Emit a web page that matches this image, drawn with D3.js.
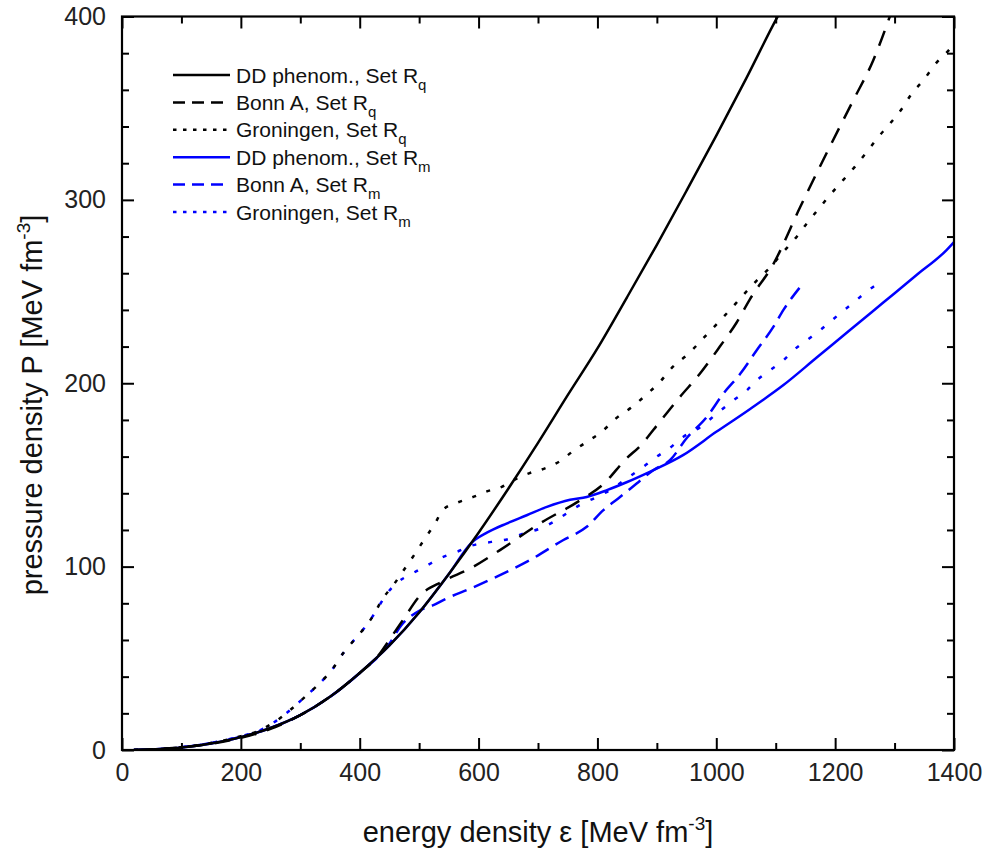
<!DOCTYPE html>
<html>
<head>
<meta charset="utf-8">
<script src="https://cdn.jsdelivr.net/npm/d3@7"></script>
<style>
  html, body { margin: 0; padding: 0; background: #fff; }
  svg { display: block; font-family: "Liberation Sans", Arial, sans-serif; }
</style>
</head>
<body>
<svg id="chart" width="988" height="853"></svg>
<script>
// ---------- data (energy density e [MeV fm^-3], pressure P [MeV fm^-3]) ----------
const xMajorTicks = [0, 200, 400, 600, 800, 1000, 1200, 1400];
const xMinorTicks = [100, 300, 500, 700, 900, 1100, 1300];
const yMajorTicks = [0, 100, 200, 300, 400];
const yMinorTicks = [20, 40, 60, 80, 120, 140, 160, 180, 220, 240, 260, 280, 320, 340, 360, 380];

const ddRq = [[20,0],[100,1.4],[150,3.6],[200,7],[250,12],[300,19],[350,29],[400,42],[450,57],[500,75],[550,96],[600,118.5],[650,142.5],[700,167.5],[750,193.5],[800,219],[850,247],[900,275.5],[950,305],[1000,335],[1050,366],[1100,398],[1110,404]];
const bonnRq = [[20,0],[100,1.4],[150,3.4],[200,6.6],[250,11.5],[300,19],[350,29],[400,42],[430,51],[456,63],[473,71],[501,84],[540,92],[586,99],[636,109],[703,123.5],[770,136],[810,145],[849,159],[871,165.5],[905,179],[939,192.6],[972,205],[1006,220],[1034,233],[1057,246],[1096,265],[1141,296],[1191,329],[1230,354],[1264,376],[1292,400]];
const groRq = [[20,0],[100,1.5],[150,3.8],[200,7.5],[230,10.5],[260,16],[308,29],[333,36.5],[353,43.6],[372,52.7],[392,60.5],[409,67],[426,75],[434,80],[459,91],[476,99],[493,107],[510,115.5],[527,123.7],[540,131],[565,135],[591,138],[614,141],[639,143.5],[664,148],[686,151],[715,154],[737,157.5],[759,163],[782,168],[807,173.5],[832,181],[858,187],[883,194],[905,200.7],[927,209],[953,216],[978,224.5],[1000,232],[1023,240],[1045,248],[1068,256],[1090,263],[1110,270.6],[1133,279],[1152,287],[1172,295],[1191,302.5],[1213,310.6],[1233,318],[1253,326],[1272,334],[1292,341.5],[1312,349.6],[1329,358],[1348,365],[1371,375],[1391,381.5],[1400,385]];
const ddRm = [[20,0],[100,1.4],[150,3.6],[200,7],[250,12],[300,19],[350,29],[400,42],[450,57],[500,75],[550,96],[588,113],[614,118.5],[647,123.5],[681,128],[715,132.6],[754,136.5],[782,138],[816,141.7],[849,146],[888,151.7],[944,160.8],[1000,173.5],[1057,186],[1113,199],[1169,214],[1225,229],[1281,244],[1337,259],[1387,272.5],[1400,277]];
const bonnRm = [[20,0],[100,1.5],[150,3.8],[200,7.2],[250,12],[300,19],[350,29],[400,42],[450,58],[470,68],[501,76],[524,79],[546,82.6],[586,88],[636,95.4],[686,103.5],[742,114.4],[782,121.7],[810,130.8],[838,138],[866,145.3],[894,152.6],[922,158],[950,170],[984,181.6],[1012,194.4],[1040,205],[1068,218],[1096,230.7],[1113,240],[1140,252]];
const groRm = [[20,0],[100,1.5],[150,3.8],[200,7.5],[230,10.5],[260,16],[308,29],[333,36.5],[353,43.6],[372,52.7],[392,60.5],[409,67],[426,75],[445,85],[462,91],[487,96],[510,100],[535,104.5],[563,108],[591,111.7],[622,113.5],[650,115],[675,118],[703,120.7],[726,124.4],[748,129],[770,133.5],[799,138],[821,141.7],[849,148],[877,154.4],[900,160],[919,164],[944,170.7],[973,176],[1001,183.5],[1029,190.7],[1051,196],[1068,201.6],[1090,207],[1113,212.5],[1130,218],[1152,223.4],[1175,229],[1208,238],[1231,244],[1253,250],[1280,256]];

const seriesNames = ["DD phenom., Set R", "Bonn A, Set R", "Groningen, Set R", "DD phenom., Set R", "Bonn A, Set R", "Groningen, Set R"];
const seriesSubs = ["q", "q", "q", "m", "m", "m"];
const seriesData = [ddRq, bonnRq, groRq, ddRm, bonnRm, groRm];
const seriesColors = ["#000000", "#000000", "#000000", "#0000ff", "#0000ff", "#0000ff"];
const seriesDash = [null, "16,11", "4,11", null, "15,8", "4,12"];
const legendDash = [null, "12,7", "3.5,6.5", null, "12,7", "3.5,6.5"];
const drawOrder = [4, 5, 3, 2, 1, 0];

// ---------- layout ----------
const svg = d3.select("#chart");
const pL = 122, pR = 954, pT = 16.5, pB = 750;
const x = d3.scaleLinear().domain([0, 1400]).range([pL, pR]);
const y = d3.scaleLinear().domain([0, 400]).range([pB, pT]);

svg.append("defs").append("clipPath").attr("id", "plotclip")
  .append("rect").attr("x", pL).attr("y", pT).attr("width", pR - pL).attr("height", pB - pT);

// curves
const line = d3.line().x(d => x(d[0])).y(d => y(d[1])).curve(d3.curveMonotoneX);
const g = svg.append("g").attr("clip-path", "url(#plotclip)");
drawOrder.forEach(i => {
  g.append("path")
    .attr("d", line(seriesData[i]))
    .attr("fill", "none")
    .attr("stroke", seriesColors[i])
    .attr("stroke-width", 2.5)
    .attr("stroke-dasharray", seriesDash[i])
    .attr("stroke-linejoin", "round");
});

// axes
function styleAxis(sel) {
  sel.select(".domain").remove();
  sel.selectAll("line").attr("stroke", "#000").attr("stroke-width", 2);
  sel.selectAll("text").attr("font-size", 25).attr("fill", "#222")
     .attr("font-family", '"Liberation Sans", Arial, sans-serif');
}
const fmt = d3.format("d");
svg.append("g").attr("transform", `translate(0,${pB})`)
  .call(d3.axisBottom(x).tickValues(xMajorTicks).tickSize(-12).tickPadding(13).tickFormat(fmt)).call(styleAxis);
svg.append("g").attr("transform", `translate(0,${pB})`)
  .call(d3.axisBottom(x).tickValues(xMinorTicks).tickSize(-7).tickFormat("")).call(styleAxis);
svg.append("g").attr("transform", `translate(0,${pT})`)
  .call(d3.axisTop(x).tickValues(xMajorTicks).tickSize(-12).tickFormat("")).call(styleAxis);
svg.append("g").attr("transform", `translate(0,${pT})`)
  .call(d3.axisTop(x).tickValues(xMinorTicks).tickSize(-7).tickFormat("")).call(styleAxis);
svg.append("g").attr("transform", `translate(${pL},0)`)
  .call(d3.axisLeft(y).tickValues(yMajorTicks).tickSize(-12).tickPadding(16).tickFormat(fmt)).call(styleAxis);
svg.append("g").attr("transform", `translate(${pL},0)`)
  .call(d3.axisLeft(y).tickValues(yMinorTicks).tickSize(-7).tickFormat("")).call(styleAxis);
svg.append("g").attr("transform", `translate(${pR},0)`)
  .call(d3.axisRight(y).tickValues(yMajorTicks).tickSize(-12).tickFormat("")).call(styleAxis);
svg.append("g").attr("transform", `translate(${pR},0)`)
  .call(d3.axisRight(y).tickValues(yMinorTicks).tickSize(-7).tickFormat("")).call(styleAxis);

// frame
svg.append("rect").attr("x", pL).attr("y", pT).attr("width", pR - pL).attr("height", pB - pT)
  .attr("fill", "none").attr("stroke", "#000").attr("stroke-width", 2.2);

// axis titles
const xt = svg.append("text").attr("x", (pL + pR) / 2).attr("y", 842)
  .attr("text-anchor", "middle").attr("font-size", 29).attr("fill", "#111");
xt.append("tspan").text("energy density ε [MeV fm");
xt.append("tspan").attr("dy", -12).attr("font-size", 19).text("-3");
xt.append("tspan").attr("dy", 12).text("]");

const yt = svg.append("text").attr("transform", "translate(42,405) rotate(-90)")
  .attr("text-anchor", "middle").attr("font-size", 29).attr("fill", "#111");
yt.append("tspan").text("pressure density P [MeV fm");
yt.append("tspan").attr("dy", -12).attr("font-size", 19).text("-3");
yt.append("tspan").attr("dy", 12).text("]");

// legend
const lg = svg.append("g");
seriesNames.forEach((name, i) => {
  const cy = 75 + i * 27.4;
  lg.append("line").attr("x1", 173).attr("x2", 230).attr("y1", cy).attr("y2", cy)
    .attr("stroke", seriesColors[i]).attr("stroke-width", 2.5).attr("stroke-dasharray", legendDash[i]);
  const t = lg.append("text").attr("x", 236).attr("y", cy + 7.5).attr("font-size", 21).attr("fill", "#111");
  t.append("tspan").text(name);
  t.append("tspan").attr("dy", 7).attr("font-size", 15).text(seriesSubs[i]);
});
</script>
</body>
</html>
